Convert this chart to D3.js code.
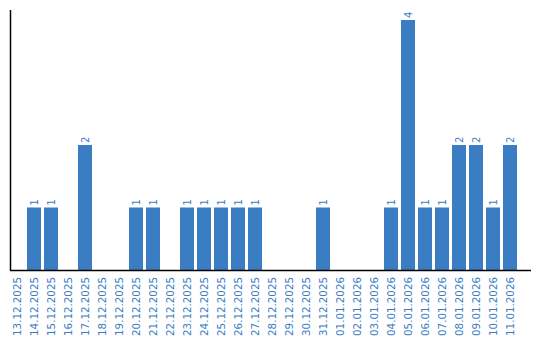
<!DOCTYPE html>
<html><head><meta charset="utf-8">
<script src="https://cdn.jsdelivr.net/npm/d3@7/dist/d3.min.js"></script>
<style>body{margin:0;background:#fff}svg{display:block}</style>
</head><body>
<svg id="c" width="540" height="340"></svg>
<script>
const categories = ["13.12.2025","14.12.2025","15.12.2025","16.12.2025","17.12.2025","18.12.2025","19.12.2025","20.12.2025","21.12.2025","22.12.2025","23.12.2025","24.12.2025","25.12.2025","26.12.2025","27.12.2025","28.12.2025","29.12.2025","30.12.2025","31.12.2025","01.01.2026","02.01.2026","03.01.2026","04.01.2026","05.01.2026","06.01.2026","07.01.2026","08.01.2026","09.01.2026","10.01.2026","11.01.2026"];
const values = [0,1,1,0,2,0,0,1,1,0,1,1,1,1,1,0,0,0,1,0,0,0,1,4,1,1,2,2,1,2];

const svg = d3.select("#c");
const color = "#3b7dc3";
const x = d3.scaleBand().domain(categories).range([10, 517]).paddingInner(3/17).paddingOuter(0);
const y = d3.scaleLinear().domain([0, 4]).range([270, 20]);

svg.selectAll("rect.bar").data(values.map((v,i)=>({c:categories[i],v}))).enter()
  .filter(d => d.v > 0)
  .append("rect").attr("class","bar")
  .attr("x", d => x(d.c)).attr("width", x.bandwidth())
  .attr("y", d => y(d.v)).attr("height", d => y(0) - y(d.v))
  .attr("fill", color);

svg.selectAll("text.val").data(values.map((v,i)=>({c:categories[i],v}))).enter()
  .filter(d => d.v > 0)
  .append("text").attr("class","val")
  .attr("transform", d => `translate(${x(d.c)+x.bandwidth()/2},${y(d.v)-2}) rotate(-90)`)
  .attr("dy","0.35em")
  .attr("text-anchor","start")
  .attr("font-family","DejaVu Sans, Verdana, sans-serif").attr("font-size","10px")
  .attr("fill", color).text(d => d.v);

// axes
svg.append("line").attr("x1",10.5).attr("x2",10.5).attr("y1",10).attr("y2",270.5).attr("stroke","#000").attr("stroke-width",1.5);
svg.append("line").attr("x1",10).attr("x2",531).attr("y1",270.5).attr("y2",270.5).attr("stroke","#000").attr("stroke-width",1.5);

svg.selectAll("text.tick").data(categories).enter().append("text").attr("class","tick")
  .attr("transform", d => `translate(${x(d)+x.bandwidth()/2},277) rotate(-90)`)
  .attr("dy","0.35em")
  .attr("text-anchor","end")
  .attr("font-family","DejaVu Sans, Verdana, sans-serif").attr("font-size","10.3px")
  .attr("fill", color).text(d => d);
</script>
</body></html>
